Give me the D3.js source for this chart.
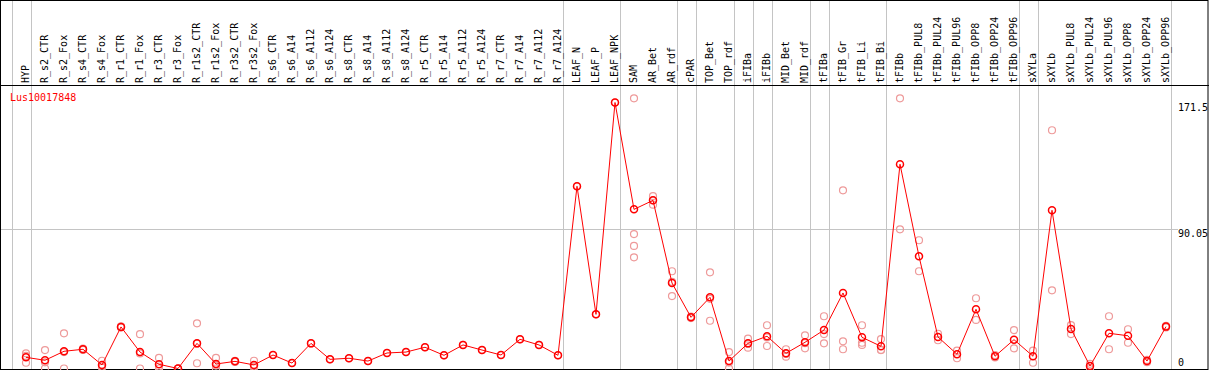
<!DOCTYPE html>
<html>
<head>
<meta charset="utf-8">
<script src="https://cdn.jsdelivr.net/npm/d3@7"></script>
<style>
  body { margin: 0; background: #fff; }
  text { font-family: "DejaVu Sans Mono", "Liberation Mono", monospace; font-size: 10px; }
</style>
</head>
<body>
<div id="chart"></div>
<script>
// ********** EXPRESSION PROFILE CHART **********

const geneName = 'Lus10017848';

// Sample names (one column each)
const samples = ['HYP', 'R_s2_CTR', 'R_s2_Fox', 'R_s4_CTR', 'R_s4_Fox', 'R_r1_CTR', 'R_r1_Fox',
	'R_r3_CTR', 'R_r3_Fox', 'R_r1s2_CTR', 'R_r1s2_Fox', 'R_r3s2_CTR', 'R_r3s2_Fox',
	'R_s6_CTR', 'R_s6_A14', 'R_s6_A112', 'R_s6_A124', 'R_s8_CTR', 'R_s8_A14', 'R_s8_A112', 'R_s8_A124',
	'R_r5_CTR', 'R_r5_A14', 'R_r5_A112', 'R_r5_A124', 'R_r7_CTR', 'R_r7_A14', 'R_r7_A112', 'R_r7_A124',
	'LEAF_N', 'LEAF_P', 'LEAF_NPK', 'SAM', 'AR_Bet', 'AR_rdf', 'cPAR', 'TOP_Bet', 'TOP_rdf',
	'iFIBa', 'iFIBb', 'MID_Bet', 'MID_rdf', 'tFIBa', 'tFIB_Gr', 'tFIB_Li', 'tFIB_Bi',
	'tFIBb', 'tFIBb_PUL8', 'tFIBb_PUL24', 'tFIBb_PUL96', 'tFIBb_OPP8', 'tFIBb_OPP24', 'tFIBb_OPP96',
	'sXYLa', 'sXYLb', 'sXYLb_PUL8', 'sXYLb_PUL24', 'sXYLb_PUL96', 'sXYLb_OPP8', 'sXYLb_OPP24', 'sXYLb_OPP96'];

// Mean expression per sample
const meanValues = [7.2, 5.3, 11.1, 12.4, 2.3, 26.8, 10.6, 2.7, 0, 16.2, 2.9, 4.6, 2.3,
	8.7, 3.5, 16.2, 5.9, 6.6, 4.8, 10.0, 10.6, 13.7, 8.5, 15.2, 11.9, 8.7, 18.8, 15.2, 8.5,
	117.5, 34.9, 171.5, 102.6, 108.4, 55.1, 33.0, 45.9, 4.8,
	16.2, 20.8, 9.8, 16.9, 24.8, 48.7, 20.1, 14.3,
	131.7, 72.3, 20.3, 9.2, 38.2, 7.9, 18.6,
	7.9, 102.0, 25.5, 1.6, 22.7, 21.1, 4.8, 27.0];

// Individual replicate values per sample
const replicates = [
	[9.8, 8.1, 3.7], [11.9, 0, 4.0], [22.7, 0, 10.6], [12.9, 12.0, 12.3], [5.0, 0.6, 1.3],
	[26.8, 26.5, 27.1], [22.1, 0, 9.7], [6.8, 0, 1.3], [0, 0, 0], [29.1, 3.4, 16.1],
	[6.8, 0, 1.9], [5.0, 4.2, 4.6], [5.0, 0.5, 1.4],
	[8.7], [3.5], [16.2], [5.9], [6.6], [4.8], [10.0], [10.6],
	[13.7], [8.5], [15.2], [11.9], [8.7], [18.8], [15.2], [8.5],
	[117.5], [34.9], [171.5], [174.2, 86.7, 79.0, 71.7], [111.2, 105.6, 108.4], [62.7, 46.7, 55.9],
	[33.5, 32.5, 33.0], [62.0, 30.8, 44.9], [10.6, 0, 3.8],
	[19.2, 13.4, 16.0], [27.9, 14.5, 20.0], [12.4, 7.6, 9.4], [21.4, 13.0, 16.3],
	[33.7, 22.2, 16.2], [114.9, 17.5, 12.4], [27.9, 16.6, 15.2], [19.0, 11.9, 12.0],
	[174.2, 89.7], [82.7, 62.7], [22.4, 18.2], [11.5, 6.6], [45.3, 31.3], [8.7, 7.1], [24.8, 13.0],
	[11.5, 3.7], [153.6, 50.4], [28.0, 22.2], [3.0, 0.2], [33.7, 12.4], [25.3, 16.6], [5.5, 4.1], [27.5, 26.5]
];

// Index of the last sample of each tissue group (-1 = before the first)
const groupEnds = [-1, 0, 28, 31, 34, 35, 37, 38, 39, 41, 42, 45, 52, 53, 60];

// Labels on the right hand side
const yTicks = [171.5, 90.05, 0];

const width = 1209, height = 370;
const headerY = 85;

const svg = d3.select('#chart')
	.append('svg')
	.attr('width', width)
	.attr('height', height);

const x = d3.scaleLinear()
	.domain([0, samples.length - 1])
	.range([26, 1166]);

const y = d3.scaleLinear()
	.domain([0, 171.5])
	.range([368.5, 102.5]);

// Gray separators between tissue groups
svg.append('g')
	.selectAll('line')
	.data(groupEnds)
	.enter()
	.append('line')
	.attr('x1', d => Math.round(x(d) + 4.7) + 0.5)
	.attr('x2', d => Math.round(x(d) + 4.7) + 0.5)
	.attr('y1', 0)
	.attr('y2', height)
	.attr('stroke', '#c4c4c4')
	.attr('stroke-width', 1);

// Middle gridline
svg.append('line')
	.attr('x1', 1)
	.attr('x2', 1178)
	.attr('y1', Math.round(y(yTicks[1])) + 0.5)
	.attr('y2', Math.round(y(yTicks[1])) + 0.5)
	.attr('stroke', '#c4c4c4');

// Frame and header separator
svg.append('rect')
	.attr('x', 0.5).attr('y', 0.5)
	.attr('width', width - 1.5).attr('height', height - 1)
	.attr('fill', 'none')
	.attr('stroke', '#000');

svg.append('line')
	.attr('x1', 0).attr('x2', width)
	.attr('y1', headerY + 0.5).attr('y2', headerY + 0.5)
	.attr('stroke', '#000');

// Column labels (rotated)
svg.append('g')
	.selectAll('text')
	.data(samples)
	.enter()
	.append('text')
	.attr('transform', (d, i) => `translate(${x(i) + 3},${headerY - 2}) rotate(-90)`)
	.attr('fill', '#000')
	.text(d => d);

// Gene name
svg.append('text')
	.attr('x', 10)
	.attr('y', 101)
	.attr('fill', '#ff0000')
	.text(geneName);

// Right hand value labels
svg.append('g')
	.selectAll('text')
	.data(yTicks)
	.enter()
	.append('text')
	.attr('x', 1178)
	.attr('y', d => Math.min(y(d) + 8.5, 366))
	.attr('fill', '#000')
	.text(d => d);

// Replicate points
const repData = [];
replicates.forEach((arr, i) => arr.forEach(v => repData.push({ i, v })));

svg.append('g')
	.selectAll('circle')
	.data(repData)
	.enter()
	.append('circle')
	.attr('cx', d => x(d.i))
	.attr('cy', d => y(d.v))
	.attr('r', 3.5)
	.attr('fill', 'none')
	.attr('stroke', '#ee9a9a')
	.attr('stroke-width', 1.2);

// Mean line
const line = d3.line()
	.x((d, i) => x(i))
	.y(d => y(d));

svg.append('path')
	.datum(meanValues)
	.attr('d', line)
	.attr('fill', 'none')
	.attr('stroke', '#ff0000')
	.attr('stroke-width', 1);

svg.append('g')
	.selectAll('circle')
	.data(meanValues)
	.enter()
	.append('circle')
	.attr('cx', (d, i) => x(i))
	.attr('cy', d => y(d))
	.attr('r', 3.5)
	.attr('fill', 'none')
	.attr('stroke', '#ff0000')
	.attr('stroke-width', 1.5);
</script>
</body>
</html>
